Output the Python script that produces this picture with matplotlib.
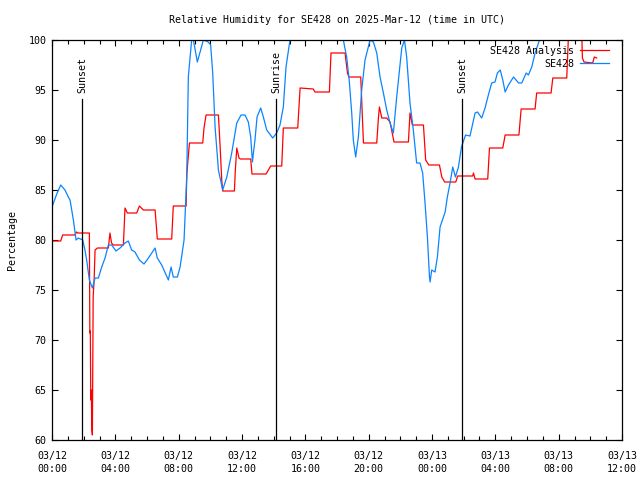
import matplotlib
matplotlib.use('Agg')
import matplotlib.pyplot as plt
from matplotlib.ticker import MultipleLocator, FixedLocator

# Hours since 2025-03-12 00:00 UTC
blue_h = [0.00, 0.30, 0.55, 0.82, 1.03, 1.14, 1.35, 1.52, 1.66, 1.94, 2.08, 2.19,
          2.36, 2.55, 2.72, 2.93, 3.14, 3.35, 3.56, 3.77, 4.04, 4.30, 4.61, 4.82,
          5.03, 5.24, 5.52, 5.81, 6.09, 6.51, 6.65, 6.93, 7.35, 7.52, 7.66, 7.92,
          8.09, 8.34, 8.51, 8.61, 8.82, 8.93, 9.18, 9.35, 9.56, 9.87, 10.02, 10.15,
          10.30, 10.51, 10.78, 11.04, 11.35, 11.67, 11.94, 12.19, 12.40, 12.55, 12.66, 12.72,
          12.82, 12.95, 13.18, 13.35, 13.56, 13.94, 14.19, 14.40, 14.61, 14.78, 15.03, 18.40,
          18.61, 18.77, 18.93, 19.03, 19.18, 19.35, 19.56, 19.77, 20.09, 20.30, 20.51, 20.72,
          20.93, 21.14, 21.35, 21.56, 21.77, 22.09, 22.26, 22.40, 22.61, 22.82, 23.03, 23.24,
          23.41, 23.56, 23.71, 23.84, 23.88, 23.98, 24.19, 24.34, 24.51, 24.83, 24.97, 25.14,
          25.31, 25.48, 25.67, 25.86, 26.12, 26.40, 26.51, 26.72, 26.87, 27.14, 27.35, 27.56,
          27.77, 27.98, 28.13, 28.31, 28.47, 28.62, 28.83, 29.15, 29.47, 29.67, 29.95, 30.09,
          30.30, 30.51, 30.79, 33.85]
blue_v = [83.3, 84.6, 85.5, 85.0, 84.3, 84.0, 82.0, 80.0, 80.2, 80.0, 79.0, 78.0,
          76.0, 75.2, 76.2, 76.2, 77.3, 78.2, 79.5, 79.5, 78.9, 79.2, 79.7, 79.9,
          79.0, 78.8, 78.0, 77.6, 78.2, 79.2, 78.2, 77.5, 76.0, 77.3, 76.3, 76.3,
          77.3, 80.0, 86.3, 96.3, 100, 100, 97.8, 98.8, 100, 99.8, 99.5, 96.7,
          91.3, 87.0, 85.0, 86.3, 88.7, 91.7, 92.5, 92.5, 91.8, 90.3, 87.8, 88.7,
          90.0, 92.3, 93.2, 92.3, 91.0, 90.2, 90.7, 91.5, 93.3, 97.3, 100, 100,
          98.3, 96.0, 92.7, 90.0, 88.3, 90.3, 95.0, 98.0, 100, 99.8, 98.7, 96.3,
          94.7, 93.0, 91.7, 90.7, 94.3, 99.2, 100, 98.3, 93.7, 91.0, 87.7, 87.7,
          86.7, 83.7, 80.3, 76.3, 75.8, 77.0, 76.8, 78.3, 81.3, 82.8, 84.3, 85.7,
          87.3, 86.3, 87.3, 89.3, 90.5, 90.4, 91.2, 92.7, 92.8, 92.2, 93.2, 94.5,
          95.7, 95.8, 96.7, 97.0, 96.0, 94.8, 95.5, 96.3, 95.7, 95.7, 96.7, 96.5,
          97.3, 98.7, 100, 100]

red_h = [0.00, 0.55, 0.67, 1.45, 1.55, 1.63, 2.36, 2.39, 2.42, 2.45, 2.48, 2.52,
         2.55, 2.60, 2.66, 2.72, 2.87, 3.56, 3.66, 3.76, 3.87, 4.51, 4.61, 4.76,
         5.35, 5.52, 5.77, 6.51, 6.61, 6.65, 7.56, 7.66, 8.47, 8.51, 8.68, 9.52,
         9.60, 9.73, 10.51, 10.62, 10.72, 10.78, 11.52, 11.58, 11.67, 11.81, 11.90, 12.55,
         12.63, 13.52, 13.81, 14.51, 14.61, 15.52, 15.67, 16.50, 16.61, 17.52, 17.62, 18.51,
         18.66, 18.75, 19.50, 19.67, 20.51, 20.62, 20.68, 20.83, 21.14, 21.35, 21.60, 22.51,
         22.61, 22.76, 23.46, 23.60, 23.80, 24.47, 24.62, 24.80, 25.50, 25.62, 26.57, 26.62,
         26.72, 27.52, 27.63, 28.47, 28.62, 29.49, 29.63, 30.51, 30.61, 31.52, 31.63, 32.51,
         32.62, 33.46, 33.50, 33.60, 34.15, 34.25, 34.40]
red_v = [79.9, 79.9, 80.5, 80.5, 80.8, 80.7, 80.7, 70.7, 70.9, 64.0, 65.0, 61.0,
         60.5, 74.3, 76.0, 79.0, 79.2, 79.2, 80.7, 79.7, 79.5, 79.5, 83.2, 82.7,
         82.7, 83.4, 83.0, 83.0, 81.0, 80.1, 80.1, 83.4, 83.4, 86.5, 89.7, 89.7,
         91.2, 92.5, 92.5, 89.3, 86.0, 84.9, 84.9, 87.0, 89.2, 88.2, 88.1, 88.1,
         86.6, 86.6, 87.4, 87.4, 91.2, 91.2, 95.2, 95.1, 94.8, 94.8, 98.7, 98.7,
         96.7, 96.3, 96.3, 89.7, 89.7, 92.3, 93.3, 92.2, 92.2, 91.8, 89.8, 89.8,
         92.7, 91.5, 91.5, 88.0, 87.5, 87.5, 86.3, 85.8, 85.8, 86.4, 86.4, 86.7,
         86.1, 86.1, 89.2, 89.2, 90.5, 90.5, 93.1, 93.1, 94.7, 94.7, 96.2, 96.2,
         100.5, 100.5, 98.2, 97.8, 97.7, 98.3, 98.2]

sun_hours = [1.92, 14.17, 25.92]
sun_names = ['Sunset', 'Sunrise', 'Sunset']

tick_hours = [0, 4, 8, 12, 16, 20, 24, 28, 32, 36]
tick_labels = ['03/12\n00:00', '03/12\n04:00', '03/12\n08:00', '03/12\n12:00',
               '03/12\n16:00', '03/12\n20:00', '03/13\n00:00', '03/13\n04:00',
               '03/13\n08:00', '03/13\n12:00']

plt.rcParams['font.family'] = ['DejaVu Sans Mono']
plt.rcParams['font.size'] = 7.2

fig = plt.figure(figsize=(6.4, 4.8), dpi=100)
ax = fig.add_axes([52 / 640, 40 / 480, 570 / 640, 400 / 480])

ax.plot(red_h, red_v, color='#ff0000', lw=0.9, label='SE428 Analysis')
ax.plot(blue_h, blue_v, color='#0a84ff', lw=0.9, label='SE428')

for h, name in zip(sun_hours, sun_names):
    ax.plot([h, h], [60, 94.1], color='black', lw=0.9)
    ax.text(h, 94.7, name, rotation=90, ha='center', va='bottom')

ax.set_xlim(0, 36)
ax.set_ylim(60, 100)
ax.xaxis.set_major_locator(FixedLocator(tick_hours))
ax.set_xticklabels(tick_labels, linespacing=1.3)
ax.xaxis.set_minor_locator(MultipleLocator(1))
ax.yaxis.set_major_locator(MultipleLocator(5))
ax.tick_params(which='both', direction='in', top=True, right=True, width=0.8)
ax.tick_params(which='major', length=4.5)
ax.tick_params(which='minor', length=2.8)
ax.tick_params(axis='x', which='major', pad=8)
ax.tick_params(axis='y', which='major', pad=4)
for s in ax.spines.values():
    s.set_linewidth(0.9)

ax.set_title('Relative Humidity for SE428 on 2025-Mar-12 (time in UTC)', fontsize=7.2, pad=12)
ax.set_ylabel('Percentage')
ax.yaxis.set_label_coords(-0.062, 0.5)

ax.legend(loc='upper right', frameon=False, markerfirst=False, handlelength=2.9,
          handletextpad=0.6, labelspacing=0.3, borderaxespad=0.2,
          bbox_to_anchor=(0.988, 1.0))

fig.savefig('out.png', dpi=100)
